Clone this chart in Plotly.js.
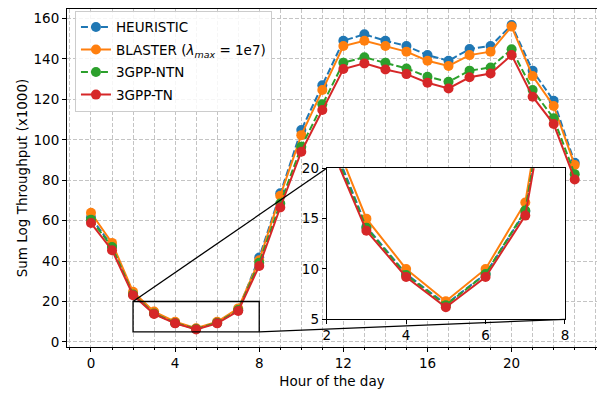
<!DOCTYPE html>
<html>
<head>
<meta charset="utf-8">
<script src="https://cdn.plot.ly/plotly-3.0.1.min.js"></script>
<style>html,body{margin:0;padding:0;background:#fff;}#chart{width:597px;height:393px;}</style>
</head>
<body>
<div id="chart"></div>
<script>
const hours = [0,1,2,3,4,5,6,7,8,9,10,11,12,13,14,15,16,17,18,19,20,21,22,23];
const heuristic = [61.5,47.5,24.0,14.2,9.5,6.5,9.5,15.7,41.8,73.5,104.8,127.0,149.0,152.2,149.0,146.4,141.9,139.1,144.9,146.4,156.8,134.2,119.3,88.6];
const blaster   = [63.9,49.0,24.8,15.0,10.0,6.8,10.0,16.6,40.4,72.3,102.3,124.6,146.4,149.0,146.4,143.6,139.1,136.5,141.9,143.6,156.0,131.5,116.7,87.5];
const ntn       = [60.5,47.0,23.5,14.1,9.4,6.4,9.5,15.8,39.2,68.5,96.5,117.6,138.1,140.8,138.1,135.3,131.2,128.7,134.2,135.8,144.8,124.6,110.6,83.0];
const tn        = [58.8,45.4,23.1,13.8,9.2,6.2,9.2,15.3,37.6,66.5,94.1,114.7,135.0,137.8,134.8,132.5,128.2,125.4,130.9,132.8,141.9,121.3,107.8,80.4];
const seriesNames = ['HEURISTIC','BLASTER (<i>λ</i><sub><i>max</i></sub> = 1e7)','3GPP-NTN','3GPP-TN'];
const seriesData = [heuristic, blaster, ntn, tn];
const colors = ['#1f77b4','#ff7f0e','#2ca02c','#d62728'];
const dashes = ['7px,3px','solid','7px,3px','solid'];
const mainXTickVals = [0,4,8,12,16,20];
const mainYTickVals = [0,20,40,60,80,100,120,140,160];
const insetXTickVals = [2,4,6,8];
const insetYTickVals = [5,10,15,20];

const font = {family:'DejaVu Sans, sans-serif', size:13.5, color:'#000'};
const xr = [-1.14, 24.06], yr = [-2.5, 164.7];
const ixr = [2, 8], iyr = [5, 20];
const ixd = [0.490, 0.9396], iyd = [0.082, 0.5287];

const traces = [];
seriesData.forEach((d,i)=>{
  traces.push({x:hours, y:d, type:'scatter', mode:'lines+markers', name:seriesNames[i],
    legendgroup:'g'+i,
    line:{color:colors[i], width:2, dash:dashes[i]},
    marker:{color:colors[i], size:10, line:{width:0}}, xaxis:'x', yaxis:'y'});
});
// white background panel for the inset (covers main grid)
traces.push({x:[ixr[0],ixr[1],ixr[1],ixr[0],ixr[0]], y:[iyr[0],iyr[0],iyr[1],iyr[1],iyr[0]],
  type:'scatter', mode:'lines', fill:'toself', fillcolor:'#ffffff', line:{width:0, color:'#ffffff'},
  showlegend:false, hoverinfo:'skip', xaxis:'x2', yaxis:'y2'});
seriesData.forEach((d,i)=>{
  traces.push({x:hours, y:d, type:'scatter', mode:'lines+markers', showlegend:false,
    legendgroup:'g'+i,
    line:{color:colors[i], width:2, dash:dashes[i]},
    marker:{color:colors[i], size:10, line:{width:0}}, xaxis:'x2', yaxis:'y2', hoverinfo:'skip'});
});

function px(v){return (v-xr[0])/(xr[1]-xr[0]);}
function py(v){return (v-yr[0])/(yr[1]-yr[0]);}

const grid = {gridcolor:'#c4c4c4', griddash:'4px,2px', gridwidth:1};
const layout = {
  width:597, height:393,
  margin:{l:67, r:0, t:9, b:46},
  paper_bgcolor:'#fff', plot_bgcolor:'#fff',
  font:font, showlegend:true,
  legend:{x:0.015, y:0.995, xanchor:'left', yanchor:'top', bgcolor:'rgba(255,255,255,0.85)',
    bordercolor:'#cccccc', borderwidth:1, font:font, traceorder:'grouped', tracegroupgap:2},
  xaxis:Object.assign({range:xr, domain:[0,1], tickmode:'array', tickvals:mainXTickVals,
    ticks:'outside', ticklen:4, tickcolor:'#000', showline:true, mirror:true, linecolor:'#000', linewidth:1,
    zeroline:false, showgrid:true,
    minor:{dtick:1, tick0:0, showgrid:true, gridcolor:'#c4c4c4', griddash:'4px,2px', ticks:'outside', ticklen:2, tickcolor:'#000'},
    title:{text:'Hour of the day', font:font, standoff:6}, tickfont:font, automargin:false}, grid),
  yaxis:Object.assign({range:yr, domain:[0,1], tickmode:'array', tickvals:mainYTickVals,
    ticks:'outside', ticklen:4, tickcolor:'#000', showline:true, mirror:false, linecolor:'#000', linewidth:1,
    zeroline:false, showgrid:true,
    title:{text:'Sum Log Throughput (x1000)', font:font, standoff:2}, tickfont:font, automargin:false}, grid),
  xaxis2:{range:ixr, domain:ixd, anchor:'y2', tickmode:'array', tickvals:insetXTickVals,
    ticks:'outside', ticklen:4, tickcolor:'#000', showline:true, mirror:true, linecolor:'#000', linewidth:1,
    showgrid:false, zeroline:false, tickfont:font, automargin:false},
  yaxis2:{range:iyr, domain:iyd, anchor:'x2', tickmode:'array', tickvals:insetYTickVals,
    ticks:'outside', ticklen:4, tickcolor:'#000', showline:true, mirror:true, linecolor:'#000', linewidth:1,
    showgrid:false, zeroline:false, tickfont:font, automargin:false},
  shapes:[
    {type:'rect', xref:'x', yref:'y', x0:ixr[0], x1:ixr[1], y0:iyr[0], y1:iyr[1], layer:'above',
      fillcolor:'rgba(0,0,0,0)', line:{color:'#000', width:1.3}},
    {type:'line', xref:'paper', yref:'paper', x0:px(ixr[0]), y0:py(iyr[1]), x1:ixd[0], y1:iyd[1], layer:'above',
      line:{color:'#000', width:1.3}},
    {type:'line', xref:'paper', yref:'paper', x0:px(ixr[1]), y0:py(iyr[0]), x1:ixd[1], y1:iyd[0], layer:'above',
      line:{color:'#000', width:1.3}}
  ]
};
Plotly.newPlot('chart', traces, layout, {staticPlot:true, displayModeBar:false});
</script>
</body>
</html>
